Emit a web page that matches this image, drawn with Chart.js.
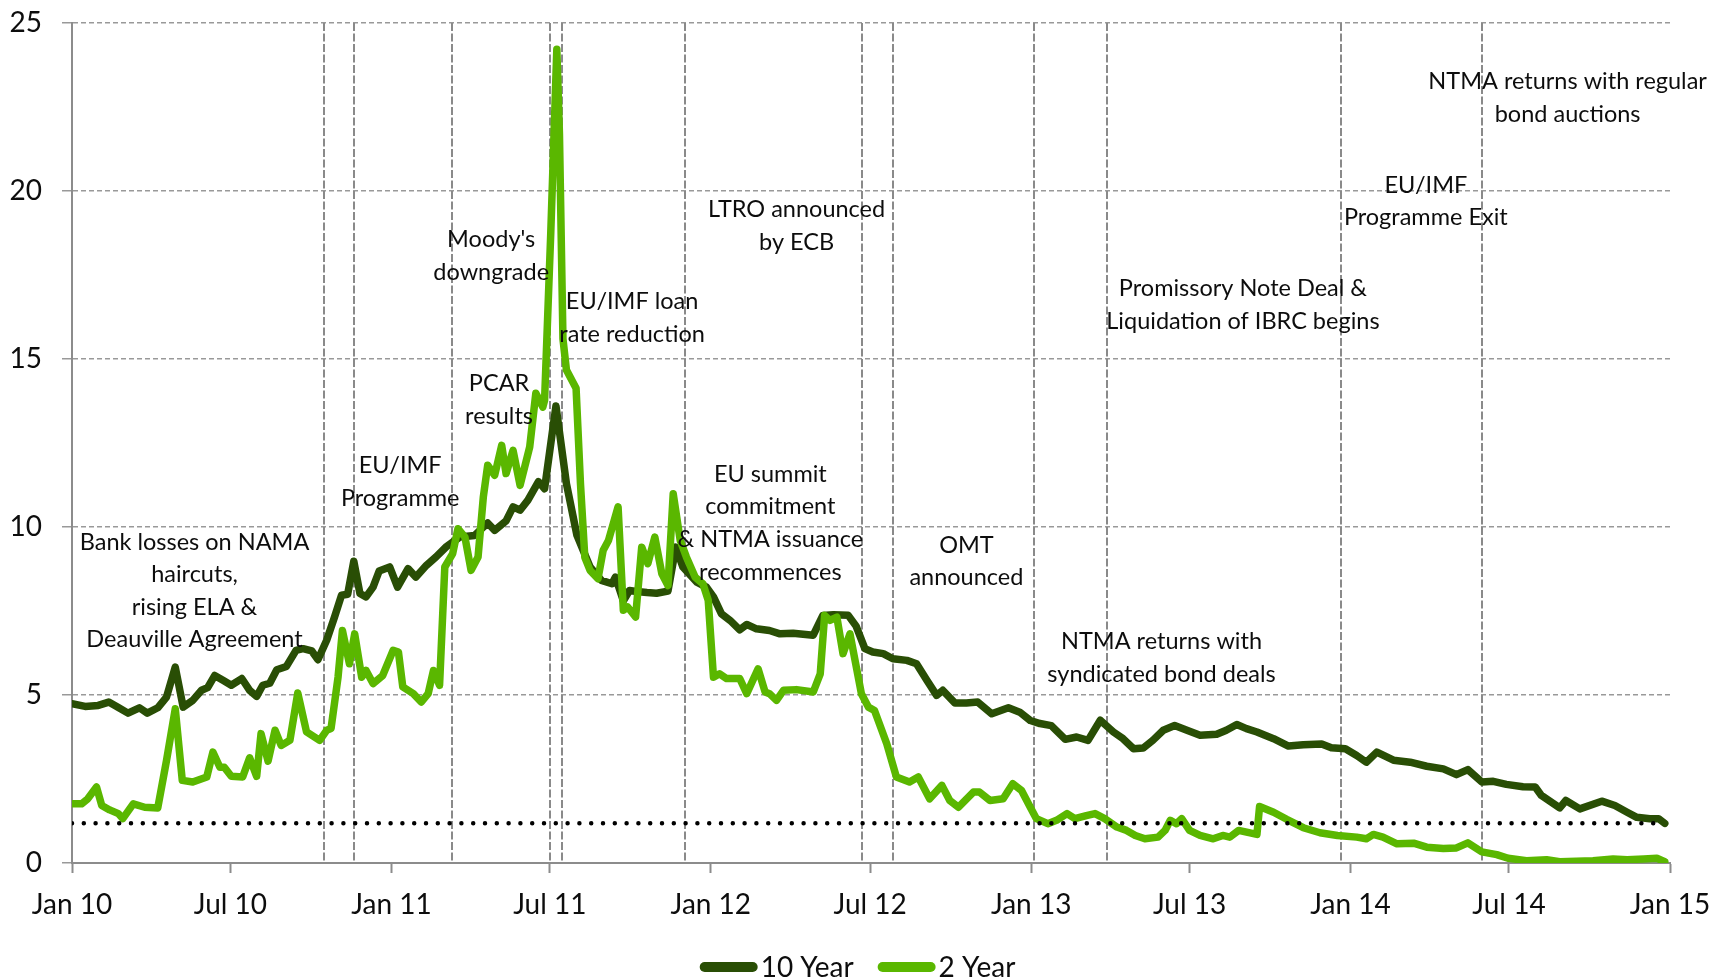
<!DOCTYPE html>
<html>
<head>
<meta charset="utf-8">
<title>Irish government bond yields, 2010-2014</title>
<script src="https://cdn.jsdelivr.net/npm/chart.js@4/dist/chart.umd.min.js"></script>
<style>
  html, body { margin: 0; padding: 0; background: #ffffff; }
  #wrap { width: 1715px; height: 980px; }
</style>
</head>
<body>
<div id="wrap"><canvas id="yields" width="1715" height="980"></canvas></div>
<script>
// x values are days counted from 1 January 2010
const tickDays   = [0, 181, 365, 546, 730, 912, 1096, 1277, 1461, 1642, 1826];
const tickLabels = ['Jan 10', 'Jul 10', 'Jan 11', 'Jul 11', 'Jan 12', 'Jul 12',
                    'Jan 13', 'Jul 13', 'Jan 14', 'Jul 14', 'Jan 15'];

const tenYearDays = [
  0, 15, 30, 42, 51, 64, 77, 86, 98, 108, 118, 127, 138, 148, 155, 163, 173, 182, 194, 203,
  211, 218, 226, 234, 245, 256, 264, 274, 281, 291, 300, 308, 315, 322, 329, 336, 344, 351, 363, 372,
  384, 393, 405, 416, 428, 443, 460, 475, 483, 496, 504, 512, 521, 533, 540, 553, 565, 577, 592, 605,
  617, 621, 630, 637, 645, 657, 668, 681, 690, 698, 714, 725, 733, 742, 752, 763, 771, 782, 797, 809,
  824, 847, 858, 870, 887, 896, 906, 915, 927, 938, 954, 965, 977, 988, 995, 1009, 1022, 1035, 1051, 1070,
  1083, 1095, 1106, 1119, 1135, 1148, 1161, 1175, 1190, 1201, 1213, 1224, 1235, 1247, 1260, 1274, 1289, 1308, 1319, 1331,
  1342, 1354, 1373, 1390, 1407, 1428, 1439, 1455, 1468, 1479, 1491, 1510, 1529, 1548, 1567, 1582, 1595, 1611, 1624, 1639,
  1658, 1672, 1679, 1700, 1707, 1723, 1748, 1763, 1777, 1788, 1803, 1813, 1820
];
const tenYearYield = [
  4.74, 4.66, 4.69, 4.79, 4.66, 4.46, 4.62, 4.46, 4.62, 4.94, 5.83, 4.64, 4.84, 5.14, 5.22, 5.58, 5.43, 5.29, 5.49, 5.14,
  4.96, 5.29, 5.35, 5.75, 5.85, 6.33, 6.38, 6.31, 6.05, 6.63, 7.32, 7.97, 8.00, 8.98, 8.02, 7.92, 8.21, 8.69, 8.81, 8.21,
  8.76, 8.51, 8.86, 9.11, 9.42, 9.70, 9.75, 10.12, 9.90, 10.18, 10.60, 10.50, 10.80, 11.35, 11.14, 13.60, 11.29, 9.75, 8.81, 8.41,
  8.31, 8.51, 7.80, 8.11, 8.08, 8.05, 8.03, 8.09, 9.40, 8.81, 8.36, 8.21, 7.92, 7.42, 7.22, 6.94, 7.10, 6.97, 6.92, 6.82,
  6.84, 6.78, 7.37, 7.39, 7.37, 7.05, 6.38, 6.28, 6.23, 6.08, 6.03, 5.93, 5.43, 4.99, 5.14, 4.76, 4.76, 4.79, 4.44, 4.62,
  4.49, 4.24, 4.15, 4.09, 3.68, 3.75, 3.65, 4.25, 3.90, 3.70, 3.40, 3.42, 3.65, 3.95, 4.09, 3.95, 3.80, 3.83, 3.95, 4.12,
  4.00, 3.90, 3.70, 3.48, 3.52, 3.54, 3.43, 3.40, 3.20, 3.00, 3.30, 3.06, 3.00, 2.88, 2.80, 2.63, 2.78, 2.41, 2.43, 2.34,
  2.27, 2.26, 2.01, 1.64, 1.86, 1.61, 1.84, 1.71, 1.51, 1.36, 1.32, 1.32, 1.18
];

const twoYearDays = [
  0, 11, 18, 28, 34, 43, 53, 58, 70, 83, 98, 108, 118, 126, 138, 154, 161, 169, 174, 182,
  195, 203, 211, 216, 224, 232, 239, 249, 258, 268, 283, 291, 296, 304, 309, 317, 323, 331, 336, 344,
  355, 367, 373, 378, 390, 399, 407, 413, 420, 426, 435, 441, 449, 456, 464, 470, 475, 483, 491, 496,
  504, 512, 523, 530, 538, 540, 547, 554, 557, 561, 565, 576, 581, 586, 592, 601, 607, 613, 624, 630,
  635, 644, 651, 658, 666, 674, 681, 687, 695, 702, 712, 721, 727, 733, 740, 748, 763, 771, 784, 792,
  797, 805, 813, 828, 847, 855, 860, 866, 874, 881, 889, 902, 910, 917, 931, 942, 957, 967, 980, 994,
  1003, 1013, 1030, 1037, 1049, 1064, 1075, 1085, 1095, 1102, 1115, 1125, 1137, 1146, 1159, 1169, 1180, 1194, 1205, 1215,
  1226, 1241, 1249, 1255, 1262, 1268, 1277, 1289, 1304, 1315, 1323, 1333, 1354, 1357, 1373, 1388, 1407, 1426, 1446, 1468,
  1479, 1487, 1498, 1514, 1533, 1548, 1567, 1582, 1595, 1611, 1628, 1641, 1662, 1685, 1700, 1738, 1761, 1777, 1796, 1811,
  1820
];
const twoYearYield = [
  1.76, 1.76, 1.91, 2.26, 1.71, 1.58, 1.47, 1.32, 1.76, 1.66, 1.64, 3.05, 4.59, 2.46, 2.41, 2.56, 3.30, 2.85, 2.85, 2.58,
  2.56, 3.13, 2.58, 3.85, 3.03, 3.95, 3.50, 3.65, 5.06, 3.90, 3.65, 3.95, 4.00, 5.53, 6.92, 5.93, 6.82, 5.53, 5.73, 5.34,
  5.58, 6.33, 6.28, 5.24, 5.04, 4.79, 5.04, 5.73, 5.29, 8.81, 9.21, 9.95, 9.70, 8.71, 9.11, 10.89, 11.84, 11.54, 12.43, 11.59,
  12.28, 11.24, 12.38, 13.98, 13.57, 13.77, 18.70, 24.22, 21.70, 15.60, 14.67, 14.13, 11.30, 9.10, 8.71, 8.46, 9.31, 9.60, 10.60, 7.52,
  7.62, 7.32, 9.40, 8.91, 9.70, 8.61, 8.26, 10.99, 9.60, 9.11, 8.51, 8.31, 7.82, 5.53, 5.63, 5.49, 5.49, 5.04, 5.78, 5.09,
  5.04, 4.84, 5.14, 5.16, 5.09, 5.63, 7.37, 7.22, 7.32, 6.23, 6.82, 5.04, 4.64, 4.54, 3.55, 2.56, 2.41, 2.56, 1.91, 2.31,
  1.86, 1.66, 2.11, 2.11, 1.86, 1.91, 2.36, 2.16, 1.66, 1.32, 1.17, 1.27, 1.47, 1.32, 1.41, 1.47, 1.32, 1.07, 0.97, 0.82,
  0.72, 0.77, 0.97, 1.27, 1.17, 1.32, 0.97, 0.82, 0.72, 0.82, 0.77, 0.97, 0.85, 1.68, 1.51, 1.30, 1.05, 0.90, 0.82, 0.77,
  0.72, 0.85, 0.77, 0.57, 0.59, 0.47, 0.43, 0.45, 0.60, 0.33, 0.25, 0.14, 0.07, 0.10, 0.04, 0.07, 0.12, 0.10, 0.12, 0.14,
  0.04
];

// Horizontal reference level: the closing 10 year yield
const latestTenYear = 1.18;

// Policy events marked with vertical lines
const eventDays = [288, 322, 434, 546, 560, 700, 903, 938, 1099, 1183, 1450, 1611];

const noteTexts = [
  ['Bank losses on NAMA', 'haircuts,', 'rising ELA &', 'Deauville Agreement'],
  ['EU/IMF', 'Programme'],
  ['PCAR', 'results'],
  ["Moody's", 'downgrade'],
  ['EU/IMF loan', 'rate reduction'],
  ['LTRO announced', 'by ECB'],
  ['EU summit', 'commitment', '& NTMA issuance', 'recommences'],
  ['OMT', 'announced'],
  ['NTMA returns with', 'syndicated bond deals'],
  ['Promissory Note Deal &', 'Liquidation of IBRC begins'],
  ['EU/IMF', 'Programme Exit'],
  ['NTMA returns with regular', 'bond auctions']
];
// Where each note's first line is centred, in axis units [day, yield]
const noteAnchors = [
  [140, 9.55], [375, 11.82], [488, 14.26], [479, 18.56], [640, 16.70], [828, 19.45],
  [798, 11.57], [1022, 9.46], [1245, 6.58], [1338, 17.09], [1547, 20.18], [1709, 23.25]
];

// Legend entries, in display order
const legendOrder = ['10 Year', '2 Year'];

const FONT = 'Lato';
const TEXT_COLOR = '#0d0d0d';
const AXIS_GREY = '#8c8c8c';
const TEN_COLOR = '#294e05';
const TWO_COLOR = '#5ab700';

const pairs = (xs, ys) => xs.map((x, i) => ({ x: x, y: ys[i] }));

// Dashed vertical lines for the events, drawn beneath the yield lines
const eventLinesPlugin = {
  id: 'eventLines',
  beforeDatasetsDraw(chart) {
    const { ctx, chartArea, scales } = chart;
    ctx.save();
    ctx.strokeStyle = '#8a8a8a';
    ctx.lineWidth = 2;
    ctx.setLineDash([8, 2.5]);
    eventDays.forEach(d => {
      const x = Math.round(scales.x.getPixelForValue(d));
      ctx.beginPath();
      ctx.moveTo(x, chartArea.top);
      ctx.lineTo(x, chartArea.bottom);
      ctx.stroke();
    });
    ctx.restore();
  }
};

// Event notes, drawn over everything
const notesPlugin = {
  id: 'eventNotes',
  afterDatasetsDraw(chart) {
    const { ctx, scales } = chart;
    const lineGap = 32.6;
    ctx.save();
    ctx.font = '23.5px ' + FONT;
    ctx.fillStyle = TEXT_COLOR;
    ctx.textAlign = 'center';
    ctx.textBaseline = 'middle';
    noteTexts.forEach((lines, i) => {
      const x = scales.x.getPixelForValue(noteAnchors[i][0]);
      const y = scales.y.getPixelForValue(noteAnchors[i][1]);
      lines.forEach((t, k) => ctx.fillText(t, x, y + k * lineGap));
    });
    ctx.restore();
  }
};

// Legend with thick line samples, centred under the plot
const lineLegendPlugin = {
  id: 'lineLegend',
  afterDraw(chart) {
    const { ctx } = chart;
    const items = legendOrder.map(name => chart.data.datasets.find(ds => ds.label === name));
    const sample = 58, gapText = 3, gapItem = 24, y = 967;
    ctx.save();
    ctx.font = '28px ' + FONT;
    ctx.textBaseline = 'middle';
    ctx.textAlign = 'left';
    const widths = items.map(ds => ctx.measureText(ds.label).width);
    let total = 0;
    widths.forEach((w, i) => { total += sample + gapText + w + (i ? gapItem : 0); });
    let x = chart.width / 2 - total / 2;
    items.forEach((ds, i) => {
      ctx.strokeStyle = ds.borderColor;
      ctx.lineWidth = 10;
      ctx.lineCap = 'round';
      ctx.beginPath();
      ctx.moveTo(x + 5, y);
      ctx.lineTo(x + sample - 5, y);
      ctx.stroke();
      ctx.fillStyle = TEXT_COLOR;
      ctx.fillText(ds.label, x + sample + gapText, y + 1);
      x += sample + gapText + widths[i] + gapItem;
    });
    ctx.restore();
  }
};

new Chart(document.getElementById('yields'), {
  type: 'line',
  data: {
    datasets: [
      {
        label: 'Closing 10 year level',
        data: [{ x: 0, y: latestTenYear }, { x: tenYearDays[tenYearDays.length - 1], y: latestTenYear }],
        borderColor: '#000000',
        borderWidth: 4.5,
        borderDash: [0, 11.8],
        borderCapStyle: 'round',
        pointRadius: 0,
        order: 0
      },
      {
        label: '2 Year',
        data: pairs(twoYearDays, twoYearYield),
        borderColor: TWO_COLOR,
        borderWidth: 7.5,
        borderJoinStyle: 'round',
        borderCapStyle: 'round',
        pointRadius: 0,
        order: 1
      },
      {
        label: '10 Year',
        data: pairs(tenYearDays, tenYearYield),
        borderColor: TEN_COLOR,
        borderWidth: 7.5,
        borderJoinStyle: 'round',
        borderCapStyle: 'round',
        pointRadius: 0,
        order: 2
      }
    ]
  },
  options: {
    responsive: false,
    animation: false,
    devicePixelRatio: 1,
    layout: { padding: { left: 0, right: 45, top: 23, bottom: 55 } },
    plugins: {
      legend: { display: false },
      tooltip: { enabled: false }
    },
    scales: {
      x: {
        type: 'linear',
        min: 0,
        max: 1826,
        afterBuildTicks(scale) { scale.ticks = tickDays.map(v => ({ value: v })); },
        afterFit(scale) {
          scale.height = 62;
          scale.paddingLeft = 0;
          scale.paddingRight = 0;
        },
        ticks: {
          autoSkip: false,
          maxRotation: 0,
          padding: 15,
          color: TEXT_COLOR,
          font: { family: FONT, size: 28 },
          callback: (value, index) => tickLabels[index]
        },
        grid: {
          drawOnChartArea: false,
          drawTicks: true,
          tickLength: 10,
          tickColor: AXIS_GREY,
          tickWidth: 2
        },
        border: { display: true, color: AXIS_GREY, width: 2 }
      },
      y: {
        min: 0,
        max: 25,
        afterFit(scale) {
          scale.width = 72;
          scale.paddingTop = 0;
          scale.paddingBottom = 0;
        },
        ticks: {
          stepSize: 5,
          padding: 20,
          color: TEXT_COLOR,
          font: { family: FONT, size: 28 }
        },
        grid: {
          color: '#999999',
          lineWidth: 1.5,
          tickLength: 10,
          tickColor: '#999999',
          tickWidth: 1.5
        },
        border: { display: true, color: AXIS_GREY, width: 2, dash: [5, 3] }
      }
    }
  },
  plugins: [eventLinesPlugin, notesPlugin, lineLegendPlugin]
});
</script>
</body>
</html>
